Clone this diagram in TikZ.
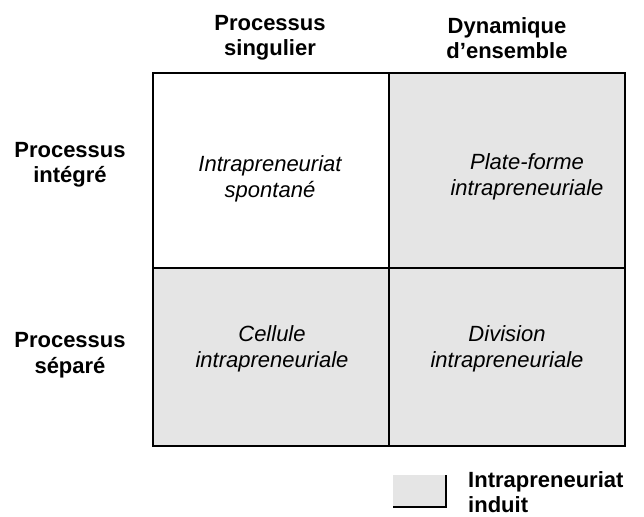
\documentclass[tikz,border=0pt]{standalone}
\usepackage{fontspec}
\setmainfont{Liberation Sans}
\begin{document}
\begin{tikzpicture}[x=1pt,y=-1pt,
  hdr/.style={font=\bfseries\fontsize{22}{25.5}\selectfont, align=center, inner sep=0pt},
  celltxt/.style={font=\itshape\fontsize{22}{25.5}\selectfont, align=center, inner sep=0pt},
  shade/.style={fill=black!10},
  grid/.style={line width=1.8pt, line cap=rect},
]
\useasboundingbox (0,0) rectangle (644,516);
% cells
\path[shade] (389,73) rectangle (625,268);
\path[shade] (153,268) rectangle (625,446);
\coordinate (tl) at (153,73);
\coordinate (br) at (625,446);
\coordinate (tm) at (389,73);
\coordinate (bm) at (389,446);
\coordinate (ml) at (153,268);
\coordinate (mr) at (625,268);
\draw[grid] (tl) rectangle (br);
\draw[grid] (tm) -- (bm);
\draw[grid] (ml) -- (mr);
% headers
\node[hdr] (h1) at (270,38) {Processus\\singulier};
\node[hdr] (h2) at (507,38) {Dynamique\\d’ensemble};
\node[hdr] (r1) at (70,165) {Processus\\intégré};
\node[hdr] (r2) at (70,355) {Processus\\séparé};
% cell texts
\node[celltxt] (c1) at (270,179) {Intrapreneuriat\\spontané};
\node[celltxt] (c2) at (527,177) {Plate-forme\\intrapreneuriale};
\node[celltxt] (c3) at (272,349) {Cellule\\intrapreneuriale};
\node[celltxt] (c4) at (507,349) {Division\\intrapreneuriale};
% legend
\path[shade] (393,475) rectangle (446,507);
\coordinate (lg1) at (446,475);
\coordinate (lg2) at (446,507);
\coordinate (lg3) at (393,507);
\draw[line width=1.8pt] (lg1) -- (lg2) -- (lg3);
\node[hdr, align=left, anchor=west] (leg) at (468,492) {Intrapreneuriat\\induit};
\end{tikzpicture}
\end{document}
